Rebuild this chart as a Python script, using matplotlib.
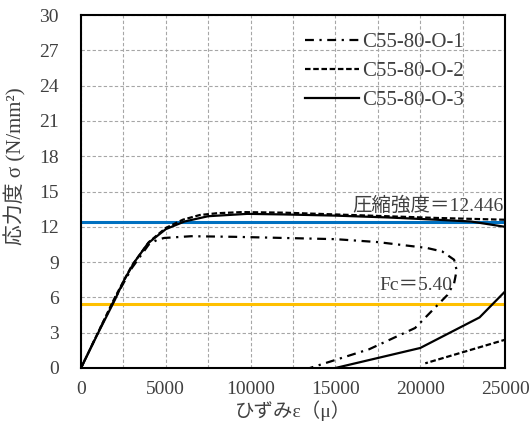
import matplotlib
matplotlib.use("Agg")
import matplotlib.pyplot as plt
from matplotlib.ticker import MultipleLocator

# --- data ---
# C55-80-O-1 (dash-dot): loading, softening, then unloading path
strain_1 = [0, 1000, 2000, 3000, 4000, 4500, 4900, 6500, 9000, 12000, 15000,
            17500, 20400, 21300, 22000, 22150, 22000, 21600, 19700, 17000, 13500]
stress_1 = [0, 3.0, 5.9, 8.5, 10.5, 10.9, 11.05, 11.2, 11.15, 11.05, 10.95,
            10.7, 10.2, 9.9, 9.2, 8.3, 7.2, 6.2, 3.4, 1.6, 0]

# C55-80-O-2 (dashed)
strain_2 = [0, 1000, 2000, 3000, 4000, 5000, 6000, 7000, 8000, 9500, 12000,
            15000, 18000, 21000, 25000, 26500, 26500, 25000, 20300]
stress_2 = [0, 3.0, 6.0, 8.7, 10.7, 11.9, 12.6, 13.0, 13.15, 13.25, 13.2,
            13.05, 12.9, 12.75, 12.6, 12.0, 4.0, 2.4, 0.4]

# C55-80-O-3 (solid)
strain_3 = [0, 1000, 2000, 2550, 3150, 3950, 5000, 6100, 7500, 9800, 12000,
            15000, 18000, 21000, 23000, 25000, 26500, 26500, 25000, 23500, 20000, 15000]
stress_3 = [0, 2.95, 5.8, 7.5, 9.0, 10.6, 11.8, 12.45, 12.9, 13.1, 13.05,
            12.95, 12.8, 12.6, 12.45, 12.0, 11.0, 8.5, 6.5, 4.3, 1.7, 0]

labels = ["C55-80-O-1", "C55-80-O-2", "C55-80-O-3"]
strength = 12.446
fc = 5.40

plt.rcParams["font.family"] = ["Liberation Serif", "Noto Sans CJK JP"]
plt.rcParams["font.size"] = 14

fig = plt.figure(figsize=(5.31, 4.26), dpi=100)
ax = fig.add_axes([81 / 531, 1 - 368 / 426, 424 / 531, 353 / 426])

ax.axhline(strength, color="#0070C0", lw=2.2, zorder=2)
ax.axhline(fc, color="#FFC000", lw=2.2, zorder=2)

ax.plot(strain_1, stress_1, color="black", lw=1.6, ls=(0, (4, 2.5, 1, 2.5)), label=labels[0], zorder=3)
ax.plot(strain_2, stress_2, color="black", lw=1.6, ls=(0, (2.5, 1.2)), label=labels[1], zorder=3)
ax.plot(strain_3, stress_3, color="black", lw=1.6, ls="-", label=labels[2], zorder=3)

ax.text(24900, 13.05, "圧縮強度＝12.446", ha="right", va="bottom", color="#404040")
ax.text(21900, 6.3, "Fc＝5.40", ha="right", va="bottom", color="#404040")

ax.set_xlim(0, 25000)
ax.set_ylim(0, 30)
ax.xaxis.set_major_locator(MultipleLocator(5000))
ax.xaxis.set_minor_locator(MultipleLocator(2500))
ax.yaxis.set_major_locator(MultipleLocator(3))
ax.grid(True, which="both", axis="x", color="#a6a6a6", ls=(0, (3, 2)), lw=0.8)
ax.grid(True, which="major", axis="y", color="#a6a6a6", ls=(0, (3, 2)), lw=0.8)
ax.set_axisbelow(True)
ax.tick_params(axis="both", which="both", length=0, labelcolor="#404040")
ax.tick_params(axis="x", pad=9)
ax.tick_params(axis="y", pad=16)
for s in ax.spines.values():
    s.set_linewidth(1.5)
    s.set_color("black")

ax.set_xlabel("ひずみε（μ）", labelpad=2, color="#404040")
ax.set_ylabel("応力度 σ (N/mm²)", color="#404040", fontsize=15)
ax.yaxis.set_label_coords(-0.128, 0.572)

leg = ax.legend(loc="center left", bbox_to_anchor=(0.508, 0.84), frameon=False, fontsize=15,
                handlelength=2.6, handletextpad=0.15, labelspacing=0.45, borderaxespad=0)
for t in leg.get_texts():
    t.set_color("#404040")

fig.savefig("out.png", dpi=100)
